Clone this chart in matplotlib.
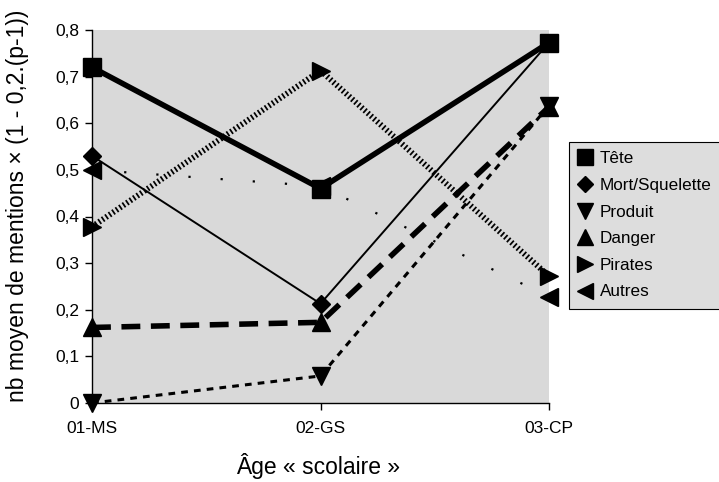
import matplotlib
matplotlib.use("Agg")
import matplotlib.pyplot as plt
from matplotlib.lines import Line2D
from matplotlib.ticker import FuncFormatter

plt.rcParams['font.family'] = ['Liberation Sans', 'DejaVu Sans']

categories = ["01-MS", "02-GS", "03-CP"]
series_names = ["Tête", "Mort/Squelette", "Produit", "Danger", "Pirates", "Autres"]
tete = [0.72, 0.46, 0.773]
mort = [0.53, 0.213, 0.773]
produit = [0.0, 0.058, 0.638]
danger = [0.162, 0.173, 0.635]
pirates = [0.378, 0.713, 0.272]
autres = [0.50, 0.465, 0.228]
y_ticks = [0, 0.1, 0.2, 0.3, 0.4, 0.5, 0.6, 0.7, 0.8]

fig = plt.figure(figsize=(7.19, 4.82), dpi=100)
fig.patch.set_facecolor('white')
ax = fig.add_axes([92/719, 1-403/482, (549-92)/719, (403-30)/482])
ax.set_facecolor('#d9d9d9')

x = list(range(len(categories)))
ms = 12.5
ax.plot(x, tete, color='black', lw=4.0, marker='s', ms=ms, clip_on=False, zorder=5)
ax.plot(x, mort, color='black', lw=1.4, marker='D', ms=ms*0.72, clip_on=False, zorder=5)
ax.plot(x, produit, color='black', lw=2.2, dashes=(2.2, 2.0), marker='v', ms=ms, clip_on=False, zorder=5)
ax.plot(x, danger, color='black', lw=4.0, dashes=(3.4, 1.9), marker='^', ms=ms, clip_on=False, zorder=5)
ax.plot(x, pirates, color='black', lw=4.2, dashes=(0.3, 0.42), marker='>', ms=ms, clip_on=False, zorder=5)
ax.plot(x, autres, color='black', lw=1.6, dashes=(1.0, 13.5), marker='<', ms=ms, clip_on=False, zorder=5)

ax.set_xlim(0, 2)
ax.set_ylim(0, 0.8)
ax.set_xticks(x)
ax.set_xticklabels(categories)
ax.set_yticks(y_ticks)
ax.yaxis.set_major_formatter(FuncFormatter(lambda v, p: ('%g' % round(v, 1)).replace('.', ',')))
for s in ['top', 'right']:
    ax.spines[s].set_visible(False)
ax.spines['left'].set_linewidth(1.0)
ax.spines['bottom'].set_linewidth(1.0)
ax.tick_params(axis='both', direction='out', length=5, width=1.0, labelsize=12.5, colors='black')
ax.tick_params(axis='x', pad=8)
ax.tick_params(axis='y', pad=4)

fig.text(18/719, 1-206/482, "nb moyen de mentions × (1 - 0,2.(p-1))", rotation=90,
         ha='center', va='center', fontsize=16.5)
fig.text(318/719, 1-466/482, "Âge « scolaire »", ha='center', va='center', fontsize=16.5)
fig.text(0.5, 1+6/482, "Nombre moyen de mentions pondéré par classe d'âge par composante",
         ha='center', va='baseline', fontsize=20)

markers = ['s', 'D', 'v', '^', '>', '<']
handles = [Line2D([], [], color='black', ls='none', marker=m, ms=(11 if m != 'D' else 8.5))
           for m in markers]
leg = fig.legend(handles, series_names, loc='upper left', mode='expand',
                 bbox_to_anchor=(569/719, 1-142/482, 0.3, 0.0),
                 fontsize=12.3, frameon=True, fancybox=False, handlelength=0.8,
                 handletextpad=0.45, labelspacing=0.68, borderpad=0.55, borderaxespad=0)
fr = leg.get_frame()
fr.set_facecolor('#dddddd')
fr.set_edgecolor('black')
fr.set_linewidth(0.8)
fr.set_alpha(1)

fig.savefig('out.png', dpi=100)
